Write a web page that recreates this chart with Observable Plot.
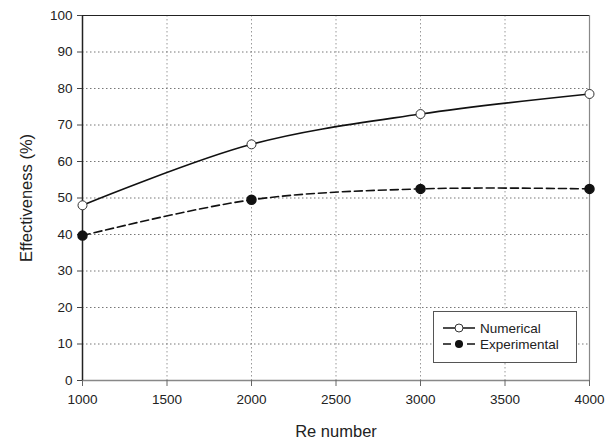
<!DOCTYPE html>
<html>
<head>
<meta charset="utf-8">
<script src="https://cdn.jsdelivr.net/npm/d3@7"></script>
<script src="https://cdn.jsdelivr.net/npm/@observablehq/plot@0.6"></script>
<style>
  html, body { margin: 0; padding: 0; background: #fff; }
  #wrap { position: relative; width: 615px; height: 441px; font-family: "Liberation Sans", Arial, sans-serif; }
  #wrap g[aria-label="x-axis label"] text, #wrap g[aria-label="y-axis label"] text { font-size: 16.5px; }
  #legend { position: absolute; left: 433px; top: 311px; width: 144px; height: 52px; border: 1px solid #555; background: #fff; box-sizing: border-box; font-size: 13.5px; color: #222; }
  #legend .row { position: absolute; left: 9px; height: 16px; display: flex; align-items: center; }
  #legend svg { margin-right: 5px; }
</style>
</head>
<body>
<div id="wrap"></div>
<script>
const reNumbers = [1000, 2000, 3000, 4000];
const numerical = [48, 64.7, 73, 78.5];
const experimental = [39.7, 49.5, 52.5, 52.5];
const xTicks = [1000, 1500, 2000, 2500, 3000, 3500, 4000];
const yTicks = [0, 10, 20, 30, 40, 50, 60, 70, 80, 90, 100];
const seriesNames = ["Numerical", "Experimental"];

const numData = reNumbers.map((x, i) => ({x, y: numerical[i]}));
const expData = reNumbers.map((x, i) => ({x, y: experimental[i]}));

const chart = Plot.plot({
  width: 615,
  height: 441,
  marginLeft: 82,
  marginRight: 26,
  marginTop: 15,
  marginBottom: 61,
  style: {fontFamily: "Liberation Sans, Arial, sans-serif", fontSize: "14px", color: "#222", background: "#fff"},
  x: {domain: [1000, 4000]},
  y: {domain: [0, 100]},
  marks: [
    Plot.gridX(xTicks.slice(1, -1), {stroke: "#999", strokeOpacity: 1, strokeDasharray: "1.5,2.5"}),
    Plot.gridY(yTicks.slice(1, -1), {stroke: "#777", strokeOpacity: 1, strokeDasharray: "1.5,2.5"}),
    Plot.ruleY([100], {stroke: "#222", strokeWidth: 1.2}),
    Plot.ruleX([4000], {stroke: "#888", strokeWidth: 1.2}),
    Plot.ruleY([0], {stroke: "#888", strokeWidth: 1.5}),
    Plot.ruleX([1000], {stroke: "#222", strokeWidth: 1.5}),
    Plot.axisX({ticks: xTicks, tickFormat: d => String(d), tickSize: 6, tickPadding: 8, stroke: "#666", fontSize: 13.5, label: "Re number", labelArrow: "none", labelAnchor: "center", labelOffset: 56}),
    Plot.axisY({ticks: yTicks, tickSize: 5, tickPadding: 5, stroke: "#444", fontSize: 13.5, label: "Effectiveness (%)", labelArrow: "none", labelAnchor: "center", labelOffset: 62}),
    Plot.line(expData, {x: "x", y: "y", curve: "catmull-rom", stroke: "#111", strokeWidth: 1.6, strokeDasharray: "8,4"}),
    Plot.line(numData, {x: "x", y: "y", curve: "catmull-rom", stroke: "#111", strokeWidth: 1.6}),
    Plot.dot(expData, {x: "x", y: "y", r: 4.5, fill: "#111", stroke: "#111"}),
    Plot.dot(numData, {x: "x", y: "y", r: 4.5, fill: "#fff", stroke: "#333", strokeWidth: 1})
  ]
});

const wrap = document.getElementById("wrap");
wrap.appendChild(chart);

const legend = document.createElement("div");
legend.id = "legend";
legend.innerHTML = `
  <div class="row" style="top:8px">
    <svg width="32" height="12"><line x1="0" y1="6" x2="32" y2="6" stroke="#111" stroke-width="1.5"/><circle cx="16" cy="6" r="4" fill="#fff" stroke="#333"/></svg>
    <span>${seriesNames[0]}</span>
  </div>
  <div class="row" style="top:24px">
    <svg width="32" height="12"><line x1="0" y1="6" x2="32" y2="6" stroke="#111" stroke-width="1.5" stroke-dasharray="8,4"/><circle cx="16" cy="6" r="4" fill="#111"/></svg>
    <span>${seriesNames[1]}</span>
  </div>`;
wrap.appendChild(legend);
</script>
</body>
</html>
